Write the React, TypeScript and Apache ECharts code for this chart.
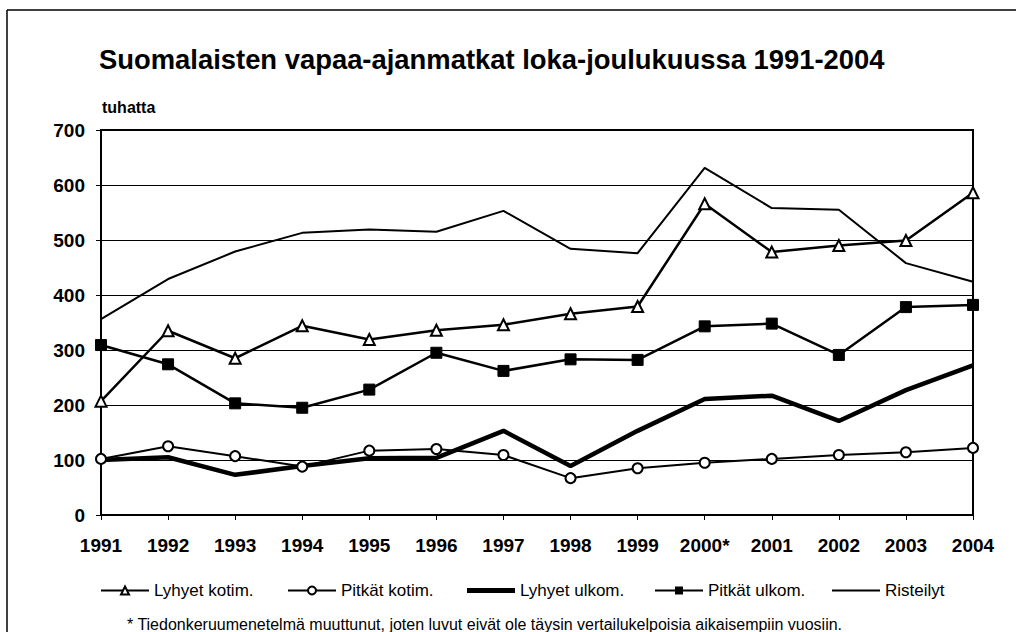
import React, { useEffect, useRef } from "react";
import * as echarts from "echarts";

const years = ["1991", "1992", "1993", "1994", "1995", "1996", "1997", "1998", "1999", "2000*", "2001", "2002", "2003", "2004"];
const lyhyetKotim = [207, 335, 285, 344, 319, 336, 346, 366, 379, 566, 478, 490, 499, 586];
const pitkatKotim = [102, 125, 107, 88, 117, 120, 109, 67, 85, 95, 102, 109, 114, 122];
const lyhyetUlkom = [100, 105, 73, 89, 103, 104, 153, 89, 153, 211, 217, 171, 227, 272];
const pitkatUlkom = [309, 274, 203, 195, 228, 295, 262, 283, 282, 343, 348, 291, 378, 382];
const risteilyt = [356, 429, 479, 513, 519, 515, 553, 484, 476, 631, 558, 555, 458, 424];
const seriesNames = ["Lyhyet kotim.", "Pitkät kotim.", "Lyhyet ulkom.", "Pitkät ulkom.", "Risteilyt"];
const legendLefts = [100, 287, 467, 654, 832];

const FONT = "'Liberation Sans', Arial, sans-serif";

export default function App() {
  const ref = useRef<HTMLDivElement>(null);
  useEffect(() => {
    document.body.style.margin = "0";
    const chart = echarts.init(ref.current!, null, { renderer: "svg" });
    const lineBase = (name: string, data: number[], extra: any) => ({
      name,
      type: "line",
      data,
      lineStyle: { color: "#000", width: 2 },
      itemStyle: { color: "#000", borderColor: "#000" },
      symbol: "none",
      ...extra,
    });
    const legendIcons: any[] = [
      { name: seriesNames[0] },
      { name: seriesNames[1] },
      { name: seriesNames[2], icon: "rect", itemStyle: { color: "#000" } },
      { name: seriesNames[3] },
      { name: seriesNames[4], icon: "rect", itemStyle: { color: "#000" } },
    ];
    const legendHeights = [10, 10, 5, 10, 2];
    chart.setOption({
      animation: false,
      backgroundColor: "#fff",
      textStyle: { fontFamily: FONT },
      title: {
        text: "Suomalaisten vapaa-ajanmatkat loka-joulukuussa 1991-2004",
        left: 99,
        top: 46,
        padding: 0,
        textStyle: { fontFamily: FONT, fontSize: 27.4, fontWeight: "bold", color: "#000" },
      },
      graphic: [
        { type: "line", shape: { x1: 7, y1: 10, x2: 1016, y2: 10 }, style: { stroke: "#000", lineWidth: 1.5 } },
        { type: "line", shape: { x1: 7, y1: 10, x2: 7, y2: 632 }, style: { stroke: "#000", lineWidth: 1.5 } },
        {
          type: "text",
          left: 102,
          top: 99,
          style: { text: "tuhatta", font: `bold 16px ${FONT}`, fill: "#000" },
        },
        {
          type: "text",
          left: 127,
          top: 616,
          style: {
            text: "* Tiedonkeruumenetelmä muuttunut, joten luvut eivät ole täysin vertailukelpoisia aikaisempiin vuosiin.",
            font: `16px ${FONT}`,
            fill: "#000",
          },
        },
      ],
      legend: seriesNames.map((n, i) => ({
        data: [legendIcons[i]],
        left: legendLefts[i],
        top: 582,
        padding: 0,
        itemWidth: 48,
        itemHeight: legendHeights[i],
        textStyle: { fontFamily: FONT, fontSize: 17, color: "#000" },
      })),
      grid: {
        left: 101,
        top: 130,
        right: 43,
        bottom: 117,
        show: true,
        borderColor: "#000",
        borderWidth: 2,
      },
      xAxis: {
        type: "category",
        data: years,
        boundaryGap: false,
        axisLine: { lineStyle: { color: "#000", width: 2 } },
        axisTick: { show: true, alignWithLabel: true, length: 5, lineStyle: { color: "#000", width: 1 } },
        axisLabel: { color: "#000", fontFamily: FONT, fontSize: 19, fontWeight: "bold", margin: 21 },
        splitLine: { show: false },
      },
      yAxis: {
        type: "value",
        min: 0,
        max: 700,
        interval: 100,
        axisLine: { show: true, lineStyle: { color: "#000", width: 2 } },
        axisTick: { show: true, length: 5, lineStyle: { color: "#000" } },
        axisLabel: { color: "#000", fontFamily: FONT, fontSize: 19, fontWeight: "bold", margin: 16 },
        splitLine: { show: true, lineStyle: { color: "#000", width: 1 } },
      },
      series: [
        lineBase(seriesNames[0], lyhyetKotim, {
          symbol: "triangle",
          symbolSize: 11,
          lineStyle: { color: "#000", width: 2.5 },
          itemStyle: { color: "#fff", borderColor: "#000", borderWidth: 2 },
          z: 5,
        }),
        lineBase(seriesNames[1], pitkatKotim, {
          symbol: "circle",
          symbolSize: 10,
          itemStyle: { color: "#fff", borderColor: "#000", borderWidth: 2 },
          z: 5,
        }),
        lineBase(seriesNames[2], lyhyetUlkom, {
          lineStyle: { color: "#000", width: 4.5 },
          z: 3,
        }),
        lineBase(seriesNames[3], pitkatUlkom, {
          symbol: "rect",
          symbolSize: 11,
          lineStyle: { color: "#000", width: 2.5 },
          itemStyle: { color: "#000", borderColor: "#000" },
          z: 4,
        }),
        lineBase(seriesNames[4], risteilyt, {}),
      ],
    });
    return () => chart.dispose();
  }, []);
  return <div ref={ref} style={{ width: 1016, height: 632 }} />;
}
